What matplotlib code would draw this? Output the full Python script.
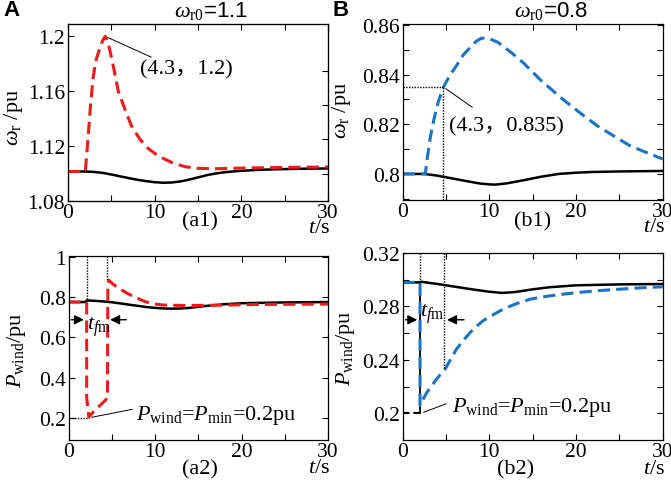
import numpy as np
import matplotlib
matplotlib.use("Agg")
import matplotlib.pyplot as plt

plt.rcParams['font.family'] = ['Liberation Serif', 'Noto Sans CJK SC']
plt.rcParams['mathtext.fontset'] = 'custom'
plt.rcParams['mathtext.rm'] = 'Liberation Serif'
plt.rcParams['mathtext.it'] = 'Liberation Serif:italic'

RED = '#f01a1a'
BLUE = '#1a73c8'

# (a1) rotor speed, w_r0 = 1.1
t_a1_base = [0, 2, 3, 4, 5, 6, 7, 8, 9, 10, 11, 12, 13, 14, 15, 16, 17, 18, 19, 20, 22, 24, 26, 28, 30]
w_a1_base = [1.1015, 1.1015, 1.1012, 1.1005, 1.0993, 1.0980, 1.0967, 1.0955, 1.0945, 1.0937, 1.0933,
             1.0935, 1.0943, 1.0956, 1.0972, 1.0988, 1.1000, 1.1009, 1.1015, 1.1020, 1.1027, 1.1031,
             1.1034, 1.1036, 1.1037]
t_a1_ctrl = [0, 2, 2.3, 2.6, 2.9, 3.2, 3.6, 4.0, 4.3, 4.6, 5.0, 5.3, 5.8, 6.5, 7.3, 8.3, 9.3, 10.5,
             12, 13.5, 15, 17, 20, 25, 30]
w_a1_ctrl = [1.1015, 1.1015, 1.125, 1.15, 1.17, 1.182, 1.19, 1.197, 1.2, 1.196, 1.185, 1.176, 1.16,
             1.148, 1.135, 1.125, 1.118, 1.1125, 1.108, 1.105, 1.1038, 1.1035, 1.104, 1.1045, 1.1048]

# (b1) rotor speed, w_r0 = 0.8
t_b1_base = [0, 2.5, 4, 6, 8, 9, 10, 10.5, 11, 12, 14, 16, 18, 20, 22, 25, 30]
w_b1_base = [0.8, 0.8, 0.7993, 0.7980, 0.7967, 0.7961, 0.7958, 0.7957, 0.7958, 0.7962, 0.7975,
             0.7989, 0.8000, 0.8005, 0.8008, 0.8010, 0.8012]
t_b1_ctrl = [0, 2.6, 2.9, 3.2, 3.6, 4.1, 4.7, 5.5, 6.2, 7.0, 7.8, 8.5, 9.1, 10, 11, 12.5, 14, 16,
             18.5, 20.5, 22.4, 24.5, 26.2, 28, 30]
w_b1_ctrl = [0.8, 0.8, 0.808, 0.815, 0.822, 0.829, 0.835, 0.840, 0.8436, 0.848, 0.851, 0.8535,
             0.8547, 0.8545, 0.853, 0.849, 0.8445, 0.8375, 0.830, 0.8245, 0.8195, 0.815, 0.8114,
             0.8088, 0.806]

# (a2) wind power, w_r0 = 1.1
t_a2_base = [0, 2, 2.1, 3, 4, 5, 6, 7, 8, 9, 10, 11, 12, 13, 14, 15, 16, 18, 20, 25, 30]
p_a2_base = [0.775, 0.775, 0.783, 0.781, 0.778, 0.774, 0.768, 0.762, 0.756, 0.750, 0.746, 0.743,
             0.742, 0.743, 0.746, 0.751, 0.756, 0.764, 0.769, 0.773, 0.775]
t_a2_ctrl = [0, 2.1, 2.1, 2.35, 3.0, 3.8, 4.5, 4.55, 4.65, 5.2, 5.9, 6.8, 7.8, 8.8, 9.8, 11, 13,
             15, 18, 22, 26, 30]
p_a2_ctrl = [0.775, 0.775, 0.30, 0.205, 0.235, 0.268, 0.298, 0.86, 0.883, 0.862, 0.841, 0.818,
             0.797, 0.778, 0.766, 0.760, 0.758, 0.758, 0.760, 0.763, 0.764, 0.765]

# (b2) wind power, w_r0 = 0.8
t_b2_base = [0, 2, 2.1, 4, 6, 8, 10, 11.5, 13, 15, 17, 18.5, 20, 25, 30]
p_b2_base = [0.298, 0.298, 0.2985, 0.2968, 0.2948, 0.2928, 0.2910, 0.2901, 0.2908, 0.2928, 0.2944,
             0.2951, 0.2958, 0.2965, 0.2968]
t_b2_ctrl = [0, 2.0, 2.0, 2.3, 2.8, 3.4, 3.9, 4.9, 5.5, 6.2, 7.0, 7.8, 8.5, 9.3, 10.5, 11.6, 13,
             14.7, 16.5, 18.5, 20.5, 22.4, 24.3, 26.2, 28, 30]
p_b2_ctrl = [0.298, 0.298, 0.206, 0.210, 0.2157, 0.221, 0.2256, 0.2331, 0.240, 0.248, 0.2545,
             0.2606, 0.265, 0.2694, 0.274, 0.278, 0.2818, 0.2854, 0.2875, 0.2892, 0.2906, 0.2917,
             0.2926, 0.2934, 0.2941, 0.2947]

fig = plt.figure(figsize=(6.71, 4.85), dpi=100)
W, H = 671, 485


def make_ax(l, r, t, b):
    return fig.add_axes([l / W, 1 - b / H, (r - l) / W, (b - t) / H])


ax_a1 = make_ax(68, 328, 25, 202)
ax_b1 = make_ax(402.7, 662.7, 25, 201)
ax_a2 = make_ax(68.5, 328, 256.7, 441)
ax_b2 = make_ax(402.7, 662.7, 254, 441)

TICK = 15.5
LAB = 16


def style(ax, ylim, yticks, yminor, ylab):
    ax.set_xlim(0, 30)
    ax.set_ylim(*ylim)
    ax.set_xticks([0, 10, 20, 30])
    ax.set_xticks([5, 15, 25], minor=True)
    ax.set_yticks(yticks)
    if yminor is not None:
        ax.set_yticks(yminor, minor=True)
    ax.set_yticklabels([('%g' % v) for v in yticks])
    ax.tick_params(which='both', direction='in', top=True, right=True, length=4, width=0.8,
                   labelsize=TICK)
    ax.tick_params(axis='x', pad=1.5)
    ax.tick_params(axis='y', pad=2)
    for s in ax.spines.values():
        s.set_linewidth(0.9)
    ax.set_ylabel(ylab, fontsize=LAB)
    ax.text(0.965, -0.15, r'$t$/s', transform=ax.transAxes, ha='center', va='center', fontsize=LAB)


# a1
ax = ax_a1
ax.plot(t_a1_base, w_a1_base, color='k', lw=1.8)
ax.plot(t_a1_ctrl, w_a1_ctrl, color=RED, lw=2.2, dashes=(4, 2))
style(ax, (1.08, 1.209), [1.08, 1.12, 1.16, 1.2], None, r'$\omega_{\mathrm{r}}$ /pu')
ax.tick_params(axis='y', which='both', right=False)
tw = ax.twinx()
tw.set_ylim(ax.get_ylim())
tw.set_yticks([1.1, 1.125, 1.15, 1.175])
tw.set_yticklabels([])
tw.tick_params(direction='in', length=4, width=0.8)
ax.yaxis.set_label_coords(-0.165, 0.48)
ax.annotate('', xy=(4.3, 1.2), xytext=(9.9, 1.184),
            arrowprops=dict(arrowstyle='-', color='k', lw=0.7))
ax.text(8.3, 1.176, '(4.3，1.2)', fontsize=LAB, va='center', ha='left',
        family=['Liberation Serif', 'Noto Sans CJK SC'])
ax.text(0.508, -0.113, '(a1)', transform=ax.transAxes, ha='center', va='center', fontsize=LAB)

# b1
ax = ax_b1
ax.plot(t_b1_base, w_b1_base, color='k', lw=1.8)
ax.plot(t_b1_ctrl, w_b1_ctrl, color=BLUE, lw=2.2, dashes=(4, 2))
style(ax, (0.7895, 0.8604), [0.8, 0.82, 0.84, 0.86], [0.79, 0.81, 0.83, 0.85],
      r'$\omega_{\mathrm{r}}$ /pu')
ax.set_yticklabels(['0.8', '0.82', '0.84', '0.86'])
ax.yaxis.set_label_coords(-0.19, 0.517)
ax.plot([0, 4.7], [0.835, 0.835], color='k', lw=1.0, ls=(0, (1, 1)))
ax.plot([4.7, 4.7], [0.7895, 0.835], color='k', lw=1.0, ls=(0, (1, 1)))
ax.annotate('', xy=(4.7, 0.835), xytext=(8.3, 0.8262),
            arrowprops=dict(arrowstyle='-', color='k', lw=0.7))
ax.text(5.3, 0.8195, '(4.3，0.835)', fontsize=LAB, va='center', ha='left',
        family=['Liberation Serif', 'Noto Sans CJK SC'])
ax.text(0.50, -0.12, '(b1)', transform=ax.transAxes, ha='center', va='center', fontsize=LAB)

# a2
ax = ax_a2
ax.plot(t_a2_base, p_a2_base, color='k', lw=1.8)
ax.plot(t_a2_ctrl, p_a2_ctrl, color=RED, lw=2.2, dashes=(4, 2))
style(ax, (0.09, 1.005), [0.2, 0.4, 0.6, 0.8, 1.0], None, r'$P_{\mathrm{wind}}$/pu')
ax.set_yticklabels(['0.2', '0.4', '0.6', '0.8', '1'])
ax.yaxis.set_label_coords(-0.155, 0.495)
ax.plot([2.1, 2.1], [1.005, 0.783], color='k', lw=1.0, ls=(0, (1, 1)))
ax.plot([4.5, 4.5], [1.005, 0.883], color='k', lw=1.0, ls=(0, (1, 1)))
ax.plot([0, 2.35], [0.2, 0.2], color='k', lw=1.0, ls=(0, (1, 1)))
ax.annotate('', xy=(2.1, 0.687), xytext=(0, 0.687),
            arrowprops=dict(arrowstyle='-|>', color='k', lw=1.0, mutation_scale=14))
ax.annotate('', xy=(4.5, 0.687), xytext=(7.0, 0.687),
            arrowprops=dict(arrowstyle='-|>', color='k', lw=1.0, mutation_scale=14))
ax.text(2.15, 0.655, r'$t_{f\mathrm{m}}$', fontsize=LAB, va='center', ha='left')
ax.annotate('', xy=(2.35, 0.2), xytext=(7.7, 0.245),
            arrowprops=dict(arrowstyle='-', color='k', lw=0.7))
ax.text(7.8, 0.217, r'$P_{\mathrm{wind}}$=$P_{\mathrm{min}}$=0.2pu', fontsize=LAB,
        va='center', ha='left')
ax.text(0.508, -0.158, '(a2)', transform=ax.transAxes, ha='center', va='center', fontsize=LAB)

# b2
ax = ax_b2
ax.plot([0, 2.0], [0.2, 0.2], color='k', lw=1.5, dashes=(3, 2))
ax.plot([2.0, 2.0], [0.2, 0.298], color='k', lw=1.3)
ax.plot(t_b2_base, p_b2_base, color='k', lw=1.8)
ax.plot(t_b2_ctrl, p_b2_ctrl, color=BLUE, lw=2.2, dashes=(4, 2))
style(ax, (0.18, 0.32), [0.2, 0.24, 0.28, 0.32], [0.22, 0.26, 0.30],
      r'$P_{\mathrm{wind}}$/pu')
ax.set_yticklabels(['0.2', '0.24', '0.28', '0.32'])
ax.yaxis.set_label_coords(-0.176, 0.495)
ax.plot([2.0, 2.0], [0.32, 0.298], color='k', lw=1.0, ls=(0, (1, 1)))
ax.plot([4.8, 4.8], [0.32, 0.233], color='k', lw=1.0, ls=(0, (1, 1)))
ax.annotate('', xy=(2.0, 0.270), xytext=(0, 0.270),
            arrowprops=dict(arrowstyle='-|>', color='k', lw=1.0, mutation_scale=14))
ax.annotate('', xy=(4.8, 0.270), xytext=(7.4, 0.270),
            arrowprops=dict(arrowstyle='-|>', color='k', lw=1.0, mutation_scale=14))
ax.text(2.05, 0.275, r'$t_{f\mathrm{m}}$', fontsize=LAB, va='center', ha='left')
ax.annotate('', xy=(2.1, 0.2), xytext=(5.3, 0.2078),
            arrowprops=dict(arrowstyle='-', color='k', lw=0.7))
ax.text(5.7, 0.2053, r'$P_{\mathrm{wind}}$=$P_{\mathrm{min}}$=0.2pu', fontsize=LAB,
        va='center', ha='left')
ax.text(0.435, -0.155, '(b2)', transform=ax.transAxes, ha='center', va='center', fontsize=LAB)

# panel letters and titles
fig.text(3 / W, 1 - 11 / H, 'A', fontsize=16, fontweight='bold', family='Liberation Sans',
         va='center', ha='left')
fig.text(332 / W, 1 - 11 / H, 'B', fontsize=16, fontweight='bold', family='Liberation Sans',
         va='center', ha='left')
fig.text(211 / W, 1 - 11 / H, r'$\omega_{\mathrm{r0}}$=1.1', fontsize=16,
         family='Liberation Sans', va='center', ha='center')
fig.text(551 / W, 1 - 11 / H, r'$\omega_{\mathrm{r0}}$=0.8', fontsize=16,
         family='Liberation Sans', va='center', ha='center')

fig.savefig('out.png', dpi=100)
